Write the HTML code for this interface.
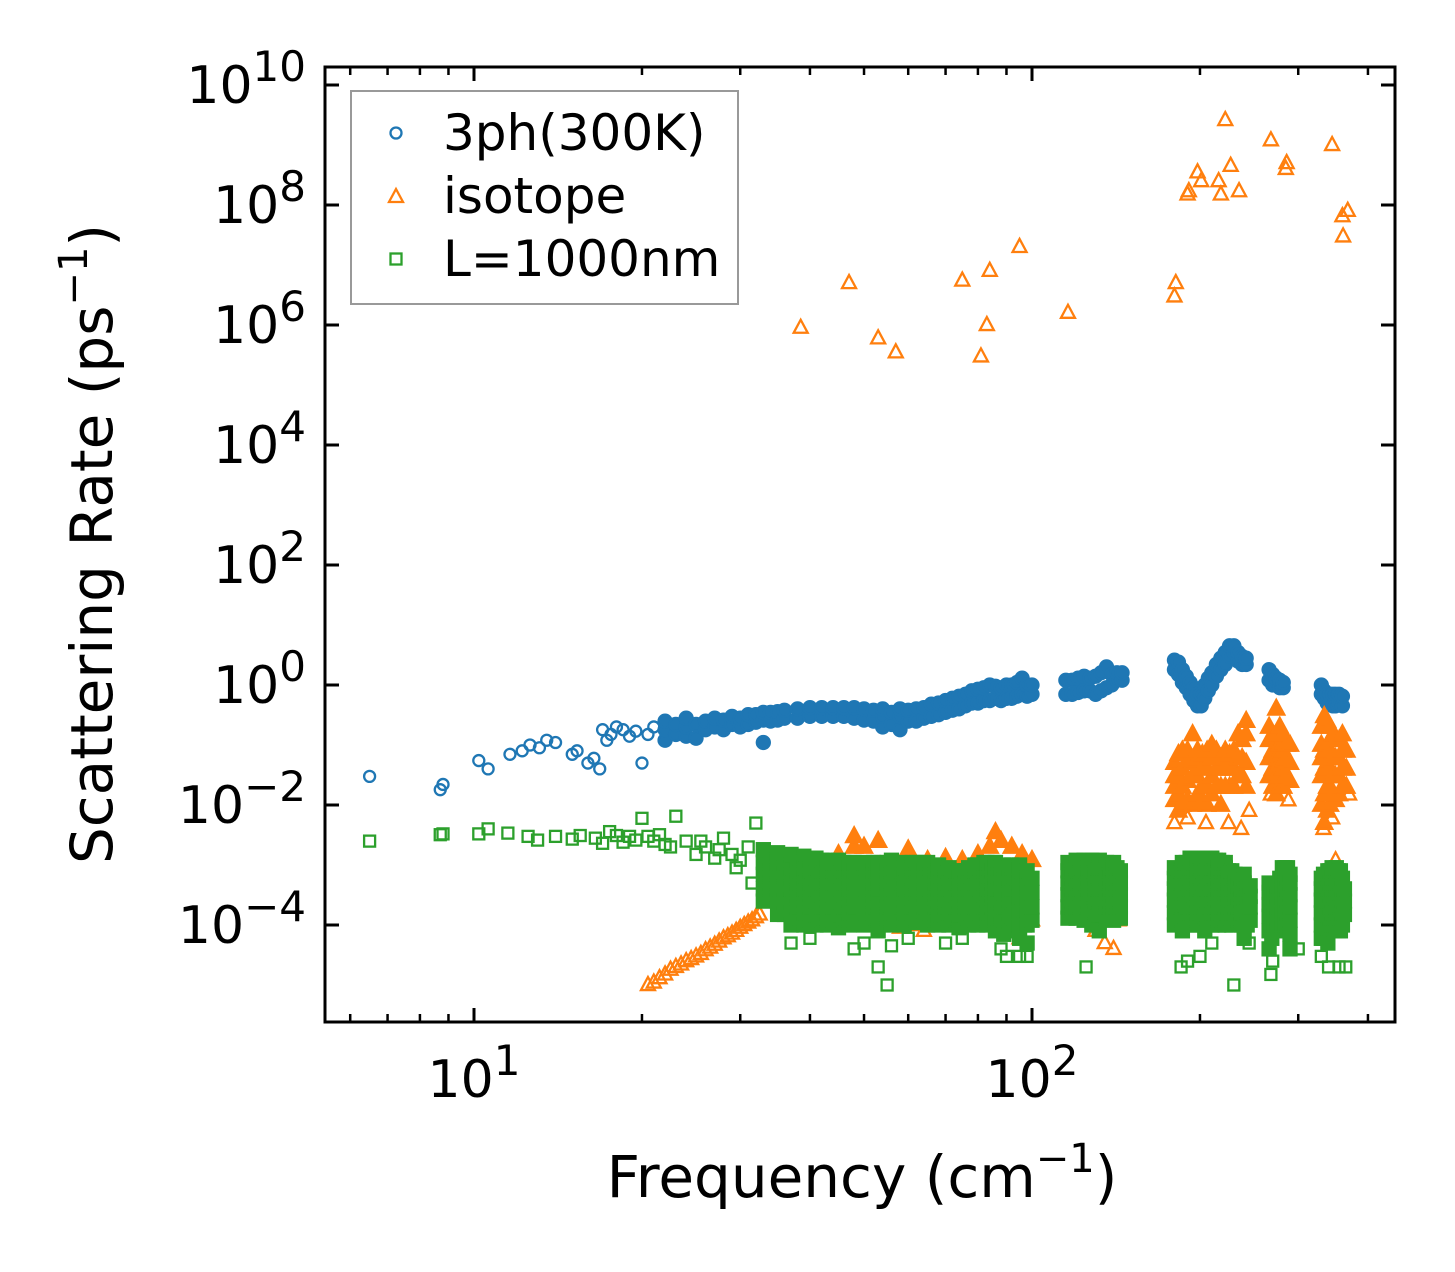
<!DOCTYPE html>
<html><head><meta charset="utf-8"><style>
html,body{margin:0;padding:0;background:#fff;}
svg{display:block;font-family:"DejaVu Sans","Liberation Sans",sans-serif;}
</style></head><body>
<svg id="chart" width="1455" height="1272" viewBox="0 0 1455 1272" xmlns="http://www.w3.org/2000/svg">
<rect x="0" y="0" width="1455" height="1272" fill="#fff"/>
<g id="marks"></g>
<g id="axes"></g>
<g>
<rect x="351" y="91" width="387" height="213" fill="#fff" fill-opacity="0.8" stroke="#999" stroke-width="2"/>
<g><circle cx="396" cy="133" r="5.5" fill="none" stroke="#1f77b4" stroke-width="2.3"/><text x="443" y="150" font-size="50">3ph(300K)</text></g>
<g><path d="M396,189 L403,202 L389,202 Z" fill="none" stroke="#ff7f0e" stroke-width="2.3"/><text x="443" y="213" font-size="50">isotope</text></g>
<g><rect x="390.5" y="253.5" width="11" height="11" fill="none" stroke="#2ca02c" stroke-width="2.3"/><text x="443" y="276" font-size="50">L=1000nm</text></g>
</g>
<text x="862" y="1197" font-size="58" text-anchor="middle">Frequency (cm<tspan dy="-25" font-size="40">−1</tspan><tspan dy="25">)</tspan></text>
<text transform="translate(112,544) rotate(-90)" font-size="58" text-anchor="middle">Scattering Rate (ps<tspan dy="-25" font-size="40">−1</tspan><tspan dy="25">)</tspan></text>
</svg>
<script>
// ---- data ----
const blueSparseF=[6.5,8.7,8.8,10.2,10.6,11.6,12.2,12.6,13.1,13.5,14,15,15.3,16,16.4,16.8,17,17.3,17.6,18,18.5,19,19.5,20,20.5,21];
const blueSparseV=[.03,.018,.022,.055,.04,.07,.08,.1,.09,.12,.11,.07,.08,.05,.06,.04,.18,.12,.15,.2,.18,.14,.17,.05,.15,.2];
const blueColF=[22,23,24,25,26,27,28,29,30,31,32,33,34,35,36,38,40,42,44,46,48,50,52,54,56,58,60,62,64,66,68,70,72,74,76,78,80,82,84,86,88,90,92,94,96,98,100,115,118,121,124,127,130,133,136,139,142,145,180,183,186,189,192,195,198,201,204,207,210,214,218,222,226,230,234,238,242,266,270,274,278,282,330,334,338,342,346,350,355,360];
const blueColV=[[.12,.18,.25],[.15,.22],[.14,.2,.28],[.13,.22],[.18,.25],[.2,.28],[.18,.26],[.22,.3],[.2,.28],[.22,.32],[.24,.32],[.11,.26,.35],[.25,.35],[.26,.36],[.28,.38],[.28,.4],[.3,.42],[.3,.42],[.3,.42],[.3,.42],[.28,.42],[.26,.4],[.25,.38],[.2,.3,.4],[.22,.35],[.18,.3,.4],[.25,.38],[.25,.4],[.28,.42],[.3,.48],[.32,.5],[.35,.55],[.38,.6],[.4,.65],[.45,.7],[.5,.8],[.5,.85],[.55,.9],[.55,1],[.6,.95],[.55,.9],[.6,1],[.6,1],[.65,1.1],[.7,1.3],[.65,1],[.7,1],[.7,1.2],[.7,1.2],[.75,1.3],[.8,1.4],[.8,1.3],[.7,1.4],[.8,1.6],[.9,2],[1,1.5],[1.2,1.6],[1.2,1.6],[1.8,2.6],[1.5,2.4],[1.1,1.8],[.9,1.4],[.7,1.1],[.55,.9],[.45,.7],[.45,.7],[.6,1],[.8,1.3],[1,1.6],[1.4,2.2],[1.8,2.8],[2.2,3.5],[3,4.5],[3.5,4.5],[2.5,3.5],[2.2,3],[2.2,2.8],[1.2,1.8],[1,1.5],[1,1.3],[.9,1.2],[.9,1.1],[.7,1],[.6,.8],[.5,.7],[.5,.7],[.45,.7],[.45,.7],[.5,.7],[.45,.65]];

const orangeSparseF=[38.5,47,53,57,75,81,83,84,95,116,180,181,190,191,198,201,216,218,222,227,235,268,285,286,345,360,361,368,20.5,21,21.5,22,22.5,23,23.5,24,24.5,25,25.5,26,26.5,27,27.5,28,28.5,29,29.5,30,30.5,31,31.5,32,32.5,58,62,64,95,100,130,135,140,143,180,190,205,225,237,245,268,288,333,345,370,350];
const orangeSparseV=[9e5,5e6,6e5,3.5e5,5.5e6,3e5,1e6,8e6,2e7,1.6e6,3e6,5e6,1.5e8,1.7e8,3.5e8,2.5e8,2.5e8,1.5e8,2.6e9,4.5e8,1.7e8,1.2e9,4e8,5e8,1e9,6.5e7,3e7,8e7,1e-5,1.1e-5,1.3e-5,1.5e-5,1.8e-5,2e-5,2.2e-5,2.5e-5,2.7e-5,3e-5,3.3e-5,3.8e-5,4.2e-5,4.7e-5,5.3e-5,6e-5,6.5e-5,7.2e-5,8e-5,9e-5,1e-4,1.1e-4,1.2e-4,1.35e-4,1.5e-4,9e-5,1e-4,8e-5,6e-5,1.2e-4,8e-5,5e-5,4e-5,1.2e-4,.005,.006,.005,.005,.004,.008,.015,.012,.004,.006,.015,1.2e-3];
const orangeColF=[180,183,186,190,194,198,202,206,210,214,218,222,226,230,234,238,242,266,270,274,278,282,286,290,330,334,338,342,346,350,355,360,366,45,48,50,53,60,65,70,75,80,84,86,88,92,96,100];
const orangeColV=[[.012,.02,.03,.05],[.008,.015,.03,.07],[.01,.02,.04,.08],[.012,.025,.05,.08],[.01,.03,.05,.15],[.015,.03,.06,.08],[.012,.02,.04,.07],[.01,.02,.04,.08],[.015,.03,.06,.1],[.02,.04,.08],[.01,.02,.04,.06],[.02,.04,.08],[.02,.04,.07],[.02,.04,.08],[.03,.06,.15],[.03,.06,.12],[.02,.05,.15,.25],[.03,.06,.12,.2],[.02,.04,.08,.15],[.015,.03,.06,.4],[.02,.05,.1,.2],[.02,.04,.08,.15],[.03,.06,.1],[.025,.05,.1],[.01,.03,.06,.1,.2],[.005,.015,.04,.08,.3],[.008,.02,.05,.1,.25],[.01,.02,.04,.08,.2],[.015,.03,.06,.15],[.012,.03,.06,.12],[.015,.03,.06,.12],[.02,.04,.08,.15],[.02,.04,.08],[1.5e-3],[2e-3,3e-3],[2e-3],[2.5e-3],[1.8e-3],[1.2e-3],[1.3e-3],[1.2e-3],[1.5e-3],[2e-3],[3.5e-3],[2.5e-3],[2e-3],[1.5e-3],[1.2e-3]];

const greenSparseF=[6.5,8.7,8.8,10.2,10.6,11.5,12.5,13,14,15,15.5,16.5,17,17.5,18,18.5,19,19.5,20,20.5,21,21.5,22,22.5,23,24,25,26,27,28,29,30,31,32,25.5,27.5,29.5,31.5,37,40,48,50,53,55,56,60,70,75,88,90,95,98,125,185,190,200,210,230,245,268,270,300,330,340,355,365];
const greenSparseV=[2.5e-3,3.2e-3,3.3e-3,3.3e-3,4e-3,3.4e-3,3e-3,2.6e-3,3e-3,2.7e-3,3.1e-3,2.8e-3,2.3e-3,3.6e-3,3.1e-3,2.4e-3,3e-3,2.6e-3,6e-3,3e-3,2.5e-3,3.2e-3,2.2e-3,2e-3,6.5e-3,2.5e-3,1.5e-3,2e-3,1.3e-3,2.8e-3,1.5e-3,1.2e-3,2e-3,5e-3,2.5e-3,1.8e-3,9e-4,5e-4,5e-5,6e-5,4e-5,5e-5,2e-5,1e-5,4.5e-5,6e-5,5e-5,6e-5,4e-5,3e-5,3e-5,3e-5,2e-5,2e-5,2.5e-5,3e-5,5e-5,1e-5,5e-5,1.5e-5,2.5e-5,4e-5,3e-5,2e-5,2e-5,2e-5];
const greenColF=[33,34,35,36,37,38,39,40,41,42,43,44,45,46,47,48,50,52,53,55,56,58,59,61,62,64,65,67,68,70,71,73,74,76,77,79,80,82,83,85,86,88,89,91,92,94,95,97,98,100,116,118,120,122,124,126,128,130,132,134,136,138,140,142,144,180,183,186,189,192,195,198,201,204,207,210,213,216,219,222,225,228,231,234,237,240,243,246,266,269,272,275,278,281,284,287,290,330,333,336,339,342,345,348,351,354,357,360,363,366];
const greenColV=[[2.5e-4,4e-4,7e-4,1.1e-3,1.8e-3],[3e-4,5e-4,8e-4,1.3e-3],[1.5e-4,2.5e-4,4e-4,7e-4,1.1e-3,1.6e-3],[1.5e-4,2.5e-4,4e-4,7e-4,1.1e-3],[1e-4,1.6e-4,2.6e-4,4e-4,6e-4,9e-4,1.5e-3],[1.2e-4,2e-4,3.2e-4,5e-4,8e-4,1.2e-3],[1e-4,1.6e-4,2.6e-4,4e-4,6e-4,9e-4,1.4e-3],[1.2e-4,2e-4,3.2e-4,5e-4,8e-4,1.2e-3],[1e-4,1.5e-4,2.5e-4,4e-4,6e-4,9e-4,1.3e-3],[1.2e-4,2e-4,3.2e-4,5e-4,8e-4,1.2e-3],[1e-4,1.6e-4,2.6e-4,4e-4,6e-4,9e-4,1.2e-3],[1.2e-4,2e-4,3.2e-4,5e-4,8e-4,1.1e-3],[9e-5,1.5e-4,2.5e-4,4e-4,6e-4,9e-4,1.2e-3],[1.2e-4,2e-4,3.2e-4,5e-4,8e-4,1.1e-3],[1e-4,1.6e-4,2.6e-4,4e-4,6e-4,9e-4,1.1e-3],[1.2e-4,2e-4,3.2e-4,5e-4,8e-4,1.1e-3],[1e-4,1.6e-4,2.5e-4,4e-4,6e-4,9e-4,1.1e-3],[1.2e-4,2e-4,3.2e-4,5e-4,8e-4,1.1e-3],[8e-5,1.4e-4,2.4e-4,4e-4,6e-4,9e-4,1.1e-3],[1.2e-4,2e-4,3.2e-4,5e-4,8e-4,1.1e-3],[1e-4,1.6e-4,2.6e-4,4e-4,6e-4,9e-4,1.2e-3],[1.2e-4,2e-4,3.2e-4,5e-4,8e-4,1.1e-3],[1e-4,1.6e-4,2.6e-4,4e-4,6e-4,9e-4],[1.2e-4,2e-4,3.2e-4,5e-4,8e-4,1.1e-3],[1.1e-4,1.7e-4,2.6e-4,4e-4,6e-4,9e-4,1.1e-3],[1.2e-4,2e-4,3.2e-4,5e-4,8e-4,1.1e-3],[1e-4,1.6e-4,2.6e-4,4e-4,6e-4,9e-4,1.1e-3],[1.2e-4,2e-4,3.2e-4,5e-4,8e-4],[1e-4,1.5e-4,2.5e-4,4e-4,6e-4,9e-4,1e-3],[1.2e-4,2e-4,3.2e-4,5e-4,8e-4],[1e-4,1.6e-4,2.6e-4,4e-4,6e-4,9e-4],[1.2e-4,2e-4,3.2e-4,5e-4,8e-4],[9e-5,1.5e-4,2.5e-4,4e-4,6e-4,8e-4],[1.2e-4,2e-4,3.2e-4,5e-4,8e-4],[1e-4,1.6e-4,2.6e-4,4e-4,6e-4,9e-4],[1.2e-4,2e-4,3.2e-4,5e-4,8e-4,1e-3],[1e-4,1.6e-4,2.6e-4,4e-4,6e-4,9e-4,1e-3],[1.2e-4,2e-4,3.2e-4,5e-4,8e-4,1.1e-3],[1e-4,1.6e-4,2.6e-4,4e-4,6e-4,9e-4,1.1e-3],[1.2e-4,2e-4,3.2e-4,5e-4,8e-4,1.1e-3],[8e-5,1.4e-4,2.4e-4,4e-4,6e-4,9e-4,1.1e-3],[1e-4,1.6e-4,2.6e-4,4e-4,6e-4,9e-4],[7e-5,1.2e-4,2e-4,3.5e-4,6e-4,9e-4,1e-3],[1e-4,1.6e-4,2.6e-4,4e-4,6e-4,9e-4],[8e-5,1.4e-4,2.4e-4,4e-4,6e-4,9e-4,1e-3],[1e-4,1.6e-4,2.6e-4,4e-4,6e-4,9e-4],[6e-5,1e-4,1.8e-4,3e-4,5e-4,8e-4,1e-3],[1e-4,1.6e-4,2.6e-4,4e-4,6e-4],[5e-5,1e-4,1.8e-4,3e-4,5e-4,8e-4],[1.2e-4,2e-4,3.5e-4,6e-4],[1.3e-4,2e-4,3.2e-4,5e-4,8e-4,1.1e-3],[1.5e-4,2.5e-4,4e-4,6e-4,9e-4],[1.3e-4,2e-4,3.2e-4,5e-4,8e-4,1.2e-3],[1.5e-4,2.5e-4,4e-4,6e-4,9e-4],[1.2e-4,2e-4,3.2e-4,5e-4,8e-4,1.2e-3],[1.5e-4,2.5e-4,4e-4,6e-4,9e-4],[1e-4,1.8e-4,3e-4,5e-4,8e-4,1.2e-3],[1.5e-4,2.5e-4,4e-4,6e-4,9e-4],[8e-5,1.5e-4,2.5e-4,4e-4,6e-4,9e-4,1.2e-3],[1.5e-4,2.5e-4,4e-4,6e-4,9e-4],[1.3e-4,2e-4,3.2e-4,5e-4,8e-4,1.1e-3],[1.5e-4,2.5e-4,4e-4,6e-4,9e-4],[1.2e-4,2e-4,3.2e-4,5e-4,8e-4,1.1e-3],[1.5e-4,2.5e-4,4e-4,6e-4,9e-4],[1.3e-4,2e-4,3.2e-4,5e-4,8e-4],[1e-4,1.6e-4,2.6e-4,4e-4,6e-4,9e-4],[1.2e-4,2e-4,3.2e-4,5e-4,8e-4],[8e-5,1.3e-4,2.2e-4,3.5e-4,5.5e-4,8e-4,1.1e-3],[1.2e-4,2e-4,3.2e-4,5e-4,8e-4,1.1e-3],[1e-4,1.6e-4,2.6e-4,4e-4,6e-4,9e-4,1.3e-3],[1.2e-4,2e-4,3.2e-4,5e-4,8e-4,1.1e-3],[1e-4,1.6e-4,2.6e-4,4e-4,6e-4,9e-4,1.3e-3],[1.2e-4,2e-4,3.2e-4,5e-4,8e-4,1.2e-3],[8e-5,1.4e-4,2.4e-4,4e-4,6e-4,9e-4,1.3e-3],[1.2e-4,2e-4,3.2e-4,5e-4,8e-4,1.2e-3],[1e-4,1.6e-4,2.6e-4,4e-4,6e-4,9e-4,1.3e-3],[1.2e-4,2e-4,3.2e-4,5e-4,8e-4,1.2e-3],[1e-4,1.6e-4,2.6e-4,4e-4,6e-4,9e-4,1.2e-3],[1.2e-4,2e-4,3.2e-4,5e-4,8e-4,1.1e-3],[1e-4,1.6e-4,2.6e-4,4e-4,6e-4,9e-4,1.1e-3],[1.2e-4,2e-4,3.2e-4,5e-4,8e-4],[1e-4,1.6e-4,2.6e-4,4e-4,6e-4,8e-4],[1.2e-4,2e-4,3.2e-4,5e-4,7e-4],[1.2e-4,2e-4,3e-4,4.5e-4,6.5e-4],[1e-4,1.6e-4,2.6e-4,4e-4,6e-4],[6e-5,1e-4,1.8e-4,3e-4,5e-4,7e-4],[1e-4,1.6e-4,2.6e-4,4e-4],[1.2e-4,2e-4,3e-4,4.5e-4],[4e-5,8e-5,1.4e-4,2.2e-4,3.5e-4,5e-4],[6e-5,1e-4,1.6e-4,2.5e-4,3.5e-4],[1e-4,1.6e-4,2.5e-4,3.5e-4],[8e-5,1.3e-4,2e-4,3e-4,4.5e-4],[1e-4,1.6e-4,2.6e-4,4e-4,6e-4],[1e-4,1.6e-4,2.6e-4,4e-4,6e-4,9e-4],[1e-4,1.6e-4,2.6e-4,4e-4,6e-4,9e-4],[1e-4,1.6e-4,2.6e-4,4e-4,6e-4,9e-4],[4e-5,7e-5,1.2e-4,2e-4,3.2e-4,5e-4,7e-4],[6e-5,1e-4,1.6e-4,2.6e-4,4e-4,6e-4],[6e-5,1e-4,1.7e-4,2.8e-4,4.5e-4,7e-4],[6e-5,1e-4,1.6e-4,2.6e-4,4e-4,6e-4],[5e-5,9e-5,1.5e-4,2.5e-4,4e-4,6e-4,8e-4],[8e-5,1.3e-4,2e-4,3.2e-4,5e-4,8e-4],[1e-4,1.6e-4,2.6e-4,4e-4,6e-4,9e-4],[8e-5,1.3e-4,2e-4,3.2e-4,5e-4,8e-4],[1e-4,1.6e-4,2.6e-4,4e-4,6e-4,9e-4],[8e-5,1.3e-4,2e-4,3.2e-4,5e-4,8e-4],[8e-5,1.3e-4,2.2e-4,3.5e-4,5.5e-4,8e-4],[1e-4,1.6e-4,2.6e-4,4e-4,6e-4],[1.5e-4,2.5e-4,4e-4]];

const xTickVals=[10,100];
const xMinorVals=[6,7,8,9,20,30,40,50,60,70,80,90,200,300,400];
const yTickExps=[-4,-2,0,2,4,6,8,10];

// ---- axes functions ----
const L=325,R=1395,T=67,B=1022;
const X=f=>474+558*(Math.log10(f)-1);
const Y=v=>685-60*Math.log10(v);
const NS='http://www.w3.org/2000/svg';
const marks=document.getElementById('marks');
const axes=document.getElementById('axes');
function mk(tag,attrs,parent){const e=document.createElementNS(NS,tag);for(const k in attrs)e.setAttribute(k,attrs[k]);parent.appendChild(e);return e;}

function circle(f,v,g,filled){const e=mk('circle',{cx:X(f),cy:Y(v),r:filled?6.5:5.5,fill:filled?'#1f77b4':'none',stroke:'#1f77b4','stroke-width':2.3},g);

}
function tri(f,v,g,filled){const x=X(f),y=Y(v);const s=filled?8:7;const e=mk('path',{d:`M${x},${y-s-1} L${x+s},${y+s*0.72} L${x-s},${y+s*0.72} Z`,fill:filled?'#ff7f0e':'none',stroke:'#ff7f0e','stroke-width':2.3},g);

}
function sq(f,v,g,filled){const h=filled?6.5:5.5;const e=mk('rect',{x:X(f)-h,y:Y(v)-h,width:2*h,height:2*h,fill:filled?'#2ca02c':'none',stroke:'#2ca02c','stroke-width':2.3},g);

}

const gB=mk('g',{},marks);
const gO=mk('g',{},marks);
const gG=mk('g',{},marks);
blueSparseF.forEach((f,i)=>circle(f,blueSparseV[i],gB,false));
blueColF.forEach((f,i)=>(blueColV[i]||[]).forEach(v=>circle(f,v,gB,true)));
orangeSparseF.forEach((f,i)=>tri(f,orangeSparseV[i],gO,false));
orangeColF.forEach((f,i)=>(orangeColV[i]||[]).forEach(v=>tri(f,v,gO,true)));
greenSparseF.forEach((f,i)=>sq(f,greenSparseV[i],gG,false));
greenColF.forEach((f,i)=>(greenColV[i]||[]).forEach(v=>sq(f,v,gG,true)));

// frame
const fr=mk('rect',{x:L,y:T,width:R-L,height:B-T,fill:'none',stroke:'#000','stroke-width':3},axes);


// x ticks
xTickVals.forEach((f,i)=>{const x=X(f);
mk('line',{x1:x,y1:B,x2:x,y2:B-14,stroke:'#000','stroke-width':3},axes);
mk('line',{x1:x,y1:T,x2:x,y2:T+14,stroke:'#000','stroke-width':3},axes);
const t=mk('text',{x:x,y:1097,'font-size':52,'text-anchor':'middle'},axes);


t.innerHTML='10<tspan dy="-22" font-size="42">'+(i+1)+'</tspan>';});
xMinorVals.forEach(f=>{const x=X(f);
mk('line',{x1:x,y1:B,x2:x,y2:B-8,stroke:'#000','stroke-width':2.5},axes);
mk('line',{x1:x,y1:T,x2:x,y2:T+8,stroke:'#000','stroke-width':2.5},axes);});
// y ticks
yTickExps.forEach(e=>{const y=Y(Math.pow(10,e));
mk('line',{x1:L,y1:y,x2:L+14,y2:y,stroke:'#000','stroke-width':3},axes);
mk('line',{x1:R,y1:y,x2:R-14,y2:y,stroke:'#000','stroke-width':3},axes);
const t=mk('text',{x:306,y:y+18,'font-size':52,'text-anchor':'end'},axes);


t.innerHTML='10<tspan dy="-22" font-size="42">'+(e<0?'−'+(-e):e)+'</tspan>';});
</script>
</body></html>
